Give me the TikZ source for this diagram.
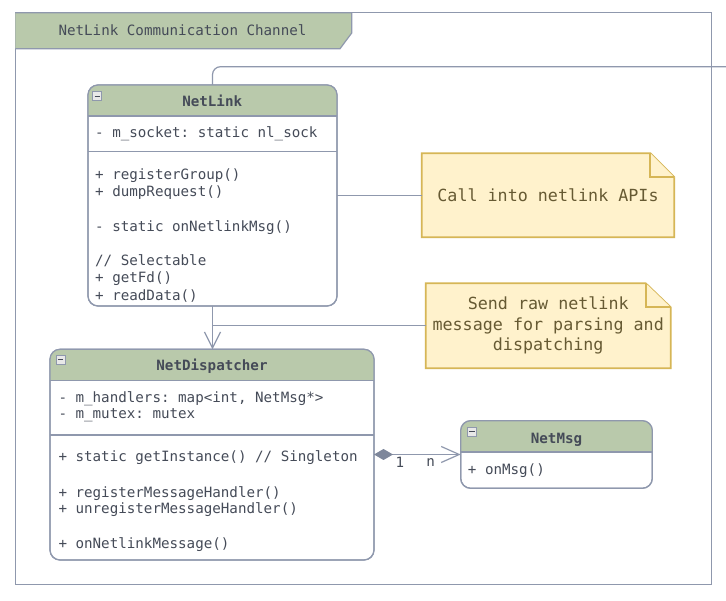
\documentclass[tikz,border=0pt]{standalone}
\usepackage{fontspec}
\setmonofont{DejaVu Sans Mono}
\usetikzlibrary{arrows.meta,calc}
\definecolor{lineC}{HTML}{8F98AD}
\definecolor{hdrC}{HTML}{B9C9AB}
\definecolor{txtC}{HTML}{454B58}
\definecolor{noteF}{HTML}{FFF2CC}
\definecolor{noteD}{HTML}{D6B656}
\definecolor{noteT}{HTML}{665A33}
\definecolor{diaC}{HTML}{7E879B}
\definecolor{iconF}{HTML}{E8E8E8}
\begin{document}
\begin{tikzpicture}[x=1pt,y=-1pt,
  classbox/.style={draw=lineC, line width=1.2pt, fill=white, rounded corners=10pt,
    inner sep=0pt, outer sep=0pt, anchor=north west},
  border/.style={draw=lineC, line width=1.2pt, rounded corners=10pt},
  divider/.style={draw=lineC, line width=1.2pt},
  member/.style={font=\ttfamily\fontsize{14.2}{17.2}\selectfont, text=txtC,
    inner sep=0pt, anchor=base west},
  ctitle/.style={font=\ttfamily\bfseries\fontsize{14.2}{17.2}\selectfont, text=txtC,
    inner sep=0pt, anchor=base},
  colicon/.style={draw=lineC, fill=iconF, line width=0.8pt, minimum size=9pt,
    inner sep=0pt, outer sep=0pt, anchor=north west,
    path picture={\draw[txtC, line width=1.3pt]
      ([xshift=1.8pt]path picture bounding box.west) --
      ([xshift=-1.8pt]path picture bounding box.east);}},
  notebox/.style={inner sep=0pt, outer sep=0pt, anchor=north west, align=center,
    font=\ttfamily\fontsize{16.7}{20.5}\selectfont, text=noteT},
  noteshape/.style={draw=noteD, fill=noteF, line width=1.8pt, line join=miter},
  conn/.style={draw=lineC, line width=1.2pt},
  multi/.style={font=\ttfamily\fontsize{14.2}{17.2}\selectfont, text=txtC,
    inner sep=0pt, anchor=base}
]
\useasboundingbox (0,0) rectangle (726,601);
\fill[white] (0,0) rectangle (726,601);

% ---- outer frame ----
\coordinate (fnw) at (15.3,12.7);
\coordinate (fse) at (711.3,584.3);
\draw[divider] (fnw) rectangle (fse);
\fill[hdrC] (15.3,12.7) -- (351.7,12.7) -- (351.7,33) -- (340,48.7) -- (15.3,48.7) -- cycle;
\draw[divider] (15.3,12.7) -- (351.7,12.7) -- (351.7,33) -- (340,48.7) -- (15.3,48.7);
\node[member, anchor=base] (ftitle) at (182.5,36) {NetLink Communication Channel};

% ---- NetLink class ----
\node[classbox, minimum width=249pt, minimum height=221pt] (nl) at (88,85) {};
\begin{scope}
  \clip[rounded corners=10pt] (nl.north west) rectangle (nl.south east);
  \fill[hdrC] (nl.north west) rectangle ([yshift=-31pt]nl.north east);
\end{scope}
\draw[border] (nl.north west) rectangle (nl.south east);
\draw[divider] ([yshift=-31pt]nl.north west) -- ([yshift=-31pt]nl.north east);
\draw[divider] (nl.west |- 0,151.7) -- (nl.east |- 0,151.7);
\node[colicon] (nlicon) at (92.7,91.7) {};
\node[ctitle] (nltitle) at (212.2,107) {NetLink};
\node[member] (nla1) at (95,138) {- m\_socket: static nl\_sock};
\node[member] (nlm1) at (95,180) {+ registerGroup()};
\node[member] (nlm2) at (95,197) {+ dumpRequest()};
\node[member] (nlm3) at (95,232) {- static onNetlinkMsg()};
\node[member] (nlm4) at (95,266) {// Selectable};
\node[member] (nlm5) at (95,283) {+ getFd()};
\node[member] (nlm6) at (95,300.5) {+ readData()};

% ---- NetDispatcher class ----
\node[classbox, minimum width=324pt, minimum height=210.7pt] (nd) at (50,349.3) {};
\begin{scope}
  \clip[rounded corners=10pt] (nd.north west) rectangle (nd.south east);
  \fill[hdrC] (nd.north west) rectangle ([yshift=-31pt]nd.north east);
\end{scope}
\draw[border] (nd.north west) rectangle (nd.south east);
\draw[divider] ([yshift=-31pt]nd.north west) -- ([yshift=-31pt]nd.north east);
\draw[divider] (nd.west |- 0,435) -- (nd.east |- 0,435);
\node[colicon] (ndicon) at (56,355) {};
\node[ctitle] (ndtitle) at (212,370.7) {NetDispatcher};
\node[member] (nda1) at (58.3,402.3) {- m\_handlers: map<int, NetMsg*>};
\node[member] (nda2) at (58.3,419) {- m\_mutex: mutex};
\node[member] (ndm1) at (58.3,462) {+ static getInstance() // Singleton};
\node[member] (ndm2) at (58.3,497.3) {+ registerMessageHandler()};
\node[member] (ndm3) at (58.3,514) {+ unregisterMessageHandler()};
\node[member] (ndm4) at (58.3,548.3) {+ onNetlinkMessage()};

% ---- NetMsg class ----
\node[classbox, minimum width=191.6pt, minimum height=67.6pt] (nm) at (460.7,420.7) {};
\begin{scope}
  \clip[rounded corners=10pt] (nm.north west) rectangle (nm.south east);
  \fill[hdrC] (nm.north west) rectangle ([yshift=-31.3pt]nm.north east);
\end{scope}
\draw[border] (nm.north west) rectangle (nm.south east);
\draw[divider] ([yshift=-31.3pt]nm.north west) -- ([yshift=-31.3pt]nm.north east);
\node[colicon] (nmicon) at (467.3,427.3) {};
\node[ctitle] (nmtitle) at (556.5,443.3) {NetMsg};
\node[member] (nmm1) at (467.7,475) {+ onMsg()};

% ---- notes ----
\node[notebox, minimum width=252.6pt, minimum height=84pt] (note1) at (421.7,153.3) {};
\draw[noteshape] (note1.north west) -- ([xshift=-24pt]note1.north east)
  -- ([yshift=-24pt]note1.north east) -- (note1.south east) -- (note1.south west) -- cycle;
\draw[noteshape] ([xshift=-24pt]note1.north east) -- ([xshift=-24pt,yshift=-24pt]note1.north east)
  -- ([yshift=-24pt]note1.north east);
\node[notebox, anchor=center] (note1t) at (note1.center) {Call into netlink APIs};

\node[notebox, minimum width=245pt, minimum height=85pt] (note2) at (425.7,283.3) {};
\draw[noteshape] (note2.north west) -- ([xshift=-25pt]note2.north east)
  -- ([yshift=-24pt]note2.north east) -- (note2.south east) -- (note2.south west) -- cycle;
\draw[noteshape] ([xshift=-25pt]note2.north east) -- ([xshift=-25pt,yshift=-24pt]note2.north east)
  -- ([yshift=-24pt]note2.north east);
\node[notebox, anchor=center] (note2t) at (note2.center) {Send raw netlink\\message for parsing and\\dispatching};

% ---- connectors ----
\coordinate (topend) at (726,66.7);
\draw[conn, rounded corners=8pt] (nl.north) -- (nl.north |- topend) -- (topend);
\draw[conn] (nl.east |- note1.west) -- (note1.west);
\draw[conn, -{Straight Barb[length=16pt,width=16pt]}] (nl.south) -- (nl.south |- nd.north);
\draw[conn] (nl.south |- note2.west) -- (note2.west);
\draw[conn, {Diamond[length=19pt,width=11pt,color=diaC,fill=diaC]}-{Straight Barb[length=18pt,width=16pt]}]
  (nd.east |- nm.west) -- (nm.west);
\node[multi] (mult1) at (400,467.3) {1};
\node[multi] (multn) at (430.7,467) {n};
\end{tikzpicture}
\end{document}
